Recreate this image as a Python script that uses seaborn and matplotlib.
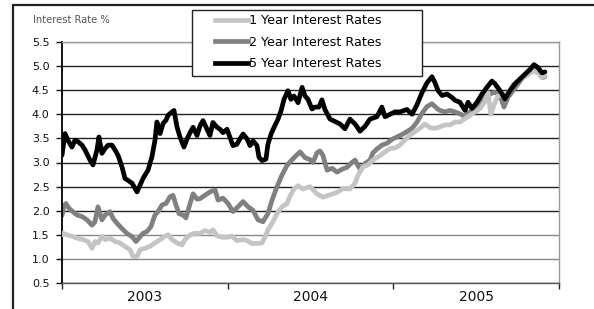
import numpy as np
import pandas as pd
import matplotlib
matplotlib.use("Agg")
import matplotlib.pyplot as plt
import seaborn as sns
from matplotlib.patches import Rectangle
from matplotlib.lines import Line2D
from matplotlib.ticker import FormatStrFormatter

plt.rcParams['font.family'] = ['DejaVu Sans']

# ---------------- data (years since start of 2003, rate %) ----------------
t_5y = [0, .018, .036, .060, .078, .097, .121, .139, .169, .187,
        .211, .223, .241, .260, .278, .302, .320, .338, .362, .380,
        .398, .423, .441, .453, .471, .489, .507, .519, .543, .561,
        .573, .592, .610, .628, .640, .664, .676, .694, .712, .736,
        .755, .773, .791, .815, .833, .851, .875, .893, .911, .936,
        .954, .972, .996, 1.014, 1.032, 1.056, 1.074, 1.093, 1.117, 1.135,
        1.153, 1.177, 1.189, 1.207, 1.231, 1.243, 1.262, 1.280, 1.304, 1.322,
        1.340, 1.364, 1.382, 1.400, 1.425, 1.449, 1.467, 1.485, 1.509, 1.527,
        1.551, 1.569, 1.587, 1.618, 1.648, 1.678, 1.708, 1.738, 1.769, 1.799,
        1.829, 1.859, 1.901, 1.931, 1.950, 1.980, 2.010, 2.040, 2.082, 2.113,
        2.143, 2.173, 2.203, 2.233, 2.251, 2.270, 2.294, 2.324, 2.354, 2.372,
        2.402, 2.433, 2.451, 2.475, 2.505, 2.535, 2.565, 2.595, 2.614, 2.644,
        2.674, 2.704, 2.734, 2.764, 2.794, 2.825, 2.849, 2.873, 2.897, 2.915]
rate_5y = [3.15, 3.60, 3.46, 3.32, 3.46, 3.43, 3.36, 3.26, 3.05, 2.95,
           3.26, 3.53, 3.19, 3.29, 3.36, 3.36, 3.26, 3.15, 2.91, 2.67,
           2.63, 2.57, 2.46, 2.39, 2.53, 2.67, 2.77, 2.84, 3.12, 3.46,
           3.84, 3.60, 3.81, 3.88, 3.98, 4.05, 4.08, 3.74, 3.53, 3.32,
           3.49, 3.62, 3.73, 3.56, 3.76, 3.87, 3.69, 3.56, 3.83, 3.73,
           3.69, 3.62, 3.69, 3.52, 3.35, 3.38, 3.49, 3.59, 3.49, 3.35,
           3.45, 3.35, 3.11, 3.04, 3.07, 3.38, 3.59, 3.73, 3.90, 4.07,
           4.31, 4.49, 4.31, 4.38, 4.24, 4.56, 4.38, 4.31, 4.11, 4.15,
           4.15, 4.30, 4.10, 3.90, 3.85, 3.80, 3.70, 3.90, 3.80, 3.65,
           3.75, 3.90, 3.95, 4.15, 3.95, 4.00, 4.05, 4.05, 4.10, 4.00,
           4.20, 4.45, 4.65, 4.78, 4.66, 4.49, 4.39, 4.42, 4.35, 4.29,
           4.25, 4.08, 4.25, 4.12, 4.25, 4.42, 4.56, 4.69, 4.63, 4.49,
           4.32, 4.49, 4.63, 4.73, 4.83, 4.93, 5.03, 4.97, 4.86, 4.88]

t_2y = [0, .012, .024, .042, .066, .091, .121, .151, .181, .199,
        .217, .241, .260, .290, .308, .332, .362, .392, .423, .447,
        .471, .489, .513, .537, .561, .579, .604, .628, .652, .670,
        .688, .706, .730, .748, .773, .791, .815, .833, .863, .893,
        .924, .942, .972, 1.002, 1.032, 1.062, 1.093, 1.123, 1.153, 1.183,
        1.213, 1.243, 1.268, 1.298, 1.328, 1.358, 1.376, 1.406, 1.437, 1.467,
        1.497, 1.515, 1.539, 1.557, 1.575, 1.600, 1.630, 1.660, 1.690, 1.720,
        1.750, 1.769, 1.799, 1.829, 1.859, 1.877, 1.901, 1.931, 1.962, 1.992,
        2.022, 2.052, 2.082, 2.113, 2.143, 2.173, 2.203, 2.233, 2.264, 2.282,
        2.312, 2.342, 2.372, 2.402, 2.433, 2.463, 2.493, 2.523, 2.553, 2.583,
        2.614, 2.644, 2.668, 2.692, 2.722, 2.752, 2.782, 2.813, 2.843, 2.873,
        2.903, 2.915]
rate_2y = [1.90, 2.10, 2.15, 2.05, 1.98, 1.91, 1.88, 1.81, 1.70, 1.77,
           2.08, 1.81, 1.91, 1.98, 1.84, 1.74, 1.63, 1.53, 1.46, 1.36,
           1.46, 1.53, 1.57, 1.67, 1.91, 1.98, 2.12, 2.15, 2.29, 2.32,
           2.12, 1.94, 1.91, 1.85, 2.15, 2.35, 2.24, 2.25, 2.32, 2.39,
           2.43, 2.22, 2.26, 2.15, 1.98, 2.08, 2.19, 2.08, 2.01, 1.81,
           1.77, 1.94, 2.22, 2.50, 2.74, 2.94, 3.01, 3.12, 3.22, 3.10,
           3.06, 3.00, 3.20, 3.24, 3.15, 2.84, 2.88, 2.80, 2.86, 2.90,
           3.00, 3.05, 2.86, 2.98, 3.05, 3.20, 3.28, 3.36, 3.40, 3.48,
           3.53, 3.58, 3.64, 3.71, 3.84, 4.02, 4.16, 4.22, 4.12, 4.08,
           4.05, 4.08, 4.05, 4.01, 3.95, 4.05, 4.12, 4.22, 4.39, 4.42,
           4.46, 4.39, 4.15, 4.35, 4.49, 4.63, 4.76, 4.83, 4.97, 4.90,
           4.76, 4.78]

t_1y = [0, .006, .030, .060, .091, .127, .157, .181, .199, .217,
        .241, .260, .290, .320, .350, .380, .410, .429, .453, .471,
        .501, .531, .561, .592, .622, .640, .664, .694, .724, .742,
        .773, .803, .833, .863, .893, .911, .936, .966, .996, 1.026,
        1.056, 1.093, 1.117, 1.147, 1.177, 1.207, 1.225, 1.243, 1.268, 1.298,
        1.328, 1.358, 1.376, 1.400, 1.425, 1.455, 1.497, 1.539, 1.575, 1.618,
        1.660, 1.696, 1.738, 1.769, 1.787, 1.817, 1.847, 1.877, 1.919, 1.950,
        1.980, 2.010, 2.040, 2.070, 2.100, 2.131, 2.161, 2.191, 2.221, 2.251,
        2.282, 2.312, 2.342, 2.372, 2.402, 2.433, 2.463, 2.493, 2.523, 2.553,
        2.571, 2.589, 2.608, 2.632, 2.662, 2.692, 2.722, 2.752, 2.782, 2.813,
        2.843, 2.873, 2.897, 2.915]
rate_1y = [1.50, 1.53, 1.50, 1.47, 1.43, 1.40, 1.36, 1.22, 1.36, 1.33,
           1.47, 1.40, 1.43, 1.36, 1.33, 1.26, 1.19, 1.05, 1.05, 1.19,
           1.22, 1.26, 1.33, 1.40, 1.47, 1.50, 1.40, 1.33, 1.29, 1.40,
           1.50, 1.53, 1.53, 1.59, 1.55, 1.60, 1.48, 1.45, 1.45, 1.47,
           1.38, 1.40, 1.38, 1.32, 1.32, 1.33, 1.45, 1.60, 1.74, 1.94,
           2.08, 2.15, 2.30, 2.45, 2.52, 2.45, 2.50, 2.35, 2.28, 2.33,
           2.38, 2.46, 2.45, 2.57, 2.74, 2.91, 2.95, 3.05, 3.14, 3.22,
           3.29, 3.30, 3.36, 3.47, 3.57, 3.64, 3.71, 3.80, 3.72, 3.71,
           3.74, 3.78, 3.78, 3.84, 3.84, 3.91, 3.98, 4.05, 4.12, 4.27,
           4.45, 4.00, 4.20, 4.38, 4.42, 4.42, 4.62, 4.69, 4.76, 4.83,
           4.90, 4.86, 4.76, 4.80]

series_names = ["1 Year Interest Rates", "2 Year Interest Rates", "5 Year Interest Rates"]
year_labels = ["2003", "2004", "2005"]
start_year = 2003
y_ticks = [0.5, 1.0, 1.5, 2.0, 2.5, 3.0, 3.5, 4.0, 4.5, 5.0, 5.5]

df = pd.concat([
    pd.DataFrame({"year": start_year + np.array(t_1y), "rate": rate_1y, "series": series_names[0]}),
    pd.DataFrame({"year": start_year + np.array(t_2y), "rate": rate_2y, "series": series_names[1]}),
    pd.DataFrame({"year": start_year + np.array(t_5y), "rate": rate_5y, "series": series_names[2]}),
], ignore_index=True)

palette = {series_names[0]: "#c4c4c4", series_names[1]: "#808080", series_names[2]: "#000000"}

# ---------------- figure ----------------
W, H = 594, 309
fig = plt.figure(figsize=(W / 100, H / 100), dpi=100)
fig.patch.set_facecolor("white")
ax = fig.add_axes([62 / W, 26 / H, 497 / W, 241 / H])

sns.lineplot(data=df, x="year", y="rate", hue="series", hue_order=series_names,
             palette=palette, linewidth=3.4, estimator=None, sort=False,
             legend=False, ax=ax)
zs = [3, 2.5, 4]
for ln, z in zip(ax.lines, zs):
    ln.set_zorder(z)
    ln.set_solid_joinstyle("round")
    ln.set_solid_capstyle("round")

ax.set_xlim(start_year, start_year + len(year_labels))
ax.set_ylim(y_ticks[0], y_ticks[-1])
ax.set_xlabel("")
ax.set_ylabel("")

ax.set_yticks(y_ticks)
ax.yaxis.set_major_formatter(FormatStrFormatter("%.1f"))
ax.tick_params(axis="y", length=4, width=1, pad=5, labelsize=8, colors="#111", left=True)

major_x = [start_year + i for i in range(len(year_labels) + 1)]
ax.set_xticks(major_x)
ax.set_xticklabels([])
ax.set_xticks([start_year + i + 0.5 for i in range(len(year_labels))], minor=True)
ax.set_xticklabels(year_labels, minor=True, fontsize=10, color="#111")
ax.tick_params(axis="x", which="major", length=4, width=1, color="#222", bottom=True)
ax.tick_params(axis="x", which="minor", length=0, pad=5)

ax.yaxis.grid(True, color="#222", linewidth=1.0)
ax.xaxis.grid(False)
ax.set_axisbelow(True)
gray_lines = {1.0, 1.5, 5.5}
for gl, v in zip(ax.get_ygridlines(), y_ticks):
    if v in gray_lines:
        gl.set_color("#888888")

for side, col, lw in [("left", "#000000", 1.3), ("bottom", "#555555", 1.0),
                      ("top", "#999999", 1.0), ("right", "#999999", 1.0)]:
    ax.spines[side].set_color(col)
    ax.spines[side].set_linewidth(lw)
ax.set_facecolor("white")

# outer frame
fig.add_artist(Rectangle((13 / W, -0.1), 1.0, (H - 5) / H + 0.1, transform=fig.transFigure,
                         fill=False, edgecolor="#222222", linewidth=1.6, zorder=1))

# legend box
fig.add_artist(Rectangle((192 / W, (H - 76) / H), 230 / W, 66 / H, transform=fig.transFigure,
                         facecolor="white", edgecolor="#222222", linewidth=1.0, zorder=2))
handles = [Line2D([], [], color=palette[s], linewidth=3.4) for s in series_names]
fig.legend(handles, series_names, loc="upper left", bbox_to_anchor=(215 / W, (H - 14) / H),
           bbox_transform=fig.transFigure, frameon=False, borderpad=0, borderaxespad=0,
           handlelength=2.6, handletextpad=0.05, labelspacing=0.68, fontsize=9.2)

fig.text(33 / W, (H - 20) / H, "Interest Rate %", fontsize=7.2, color="#555555",
         ha="left", va="center")

fig.savefig("out.png", dpi=100, facecolor="white")
